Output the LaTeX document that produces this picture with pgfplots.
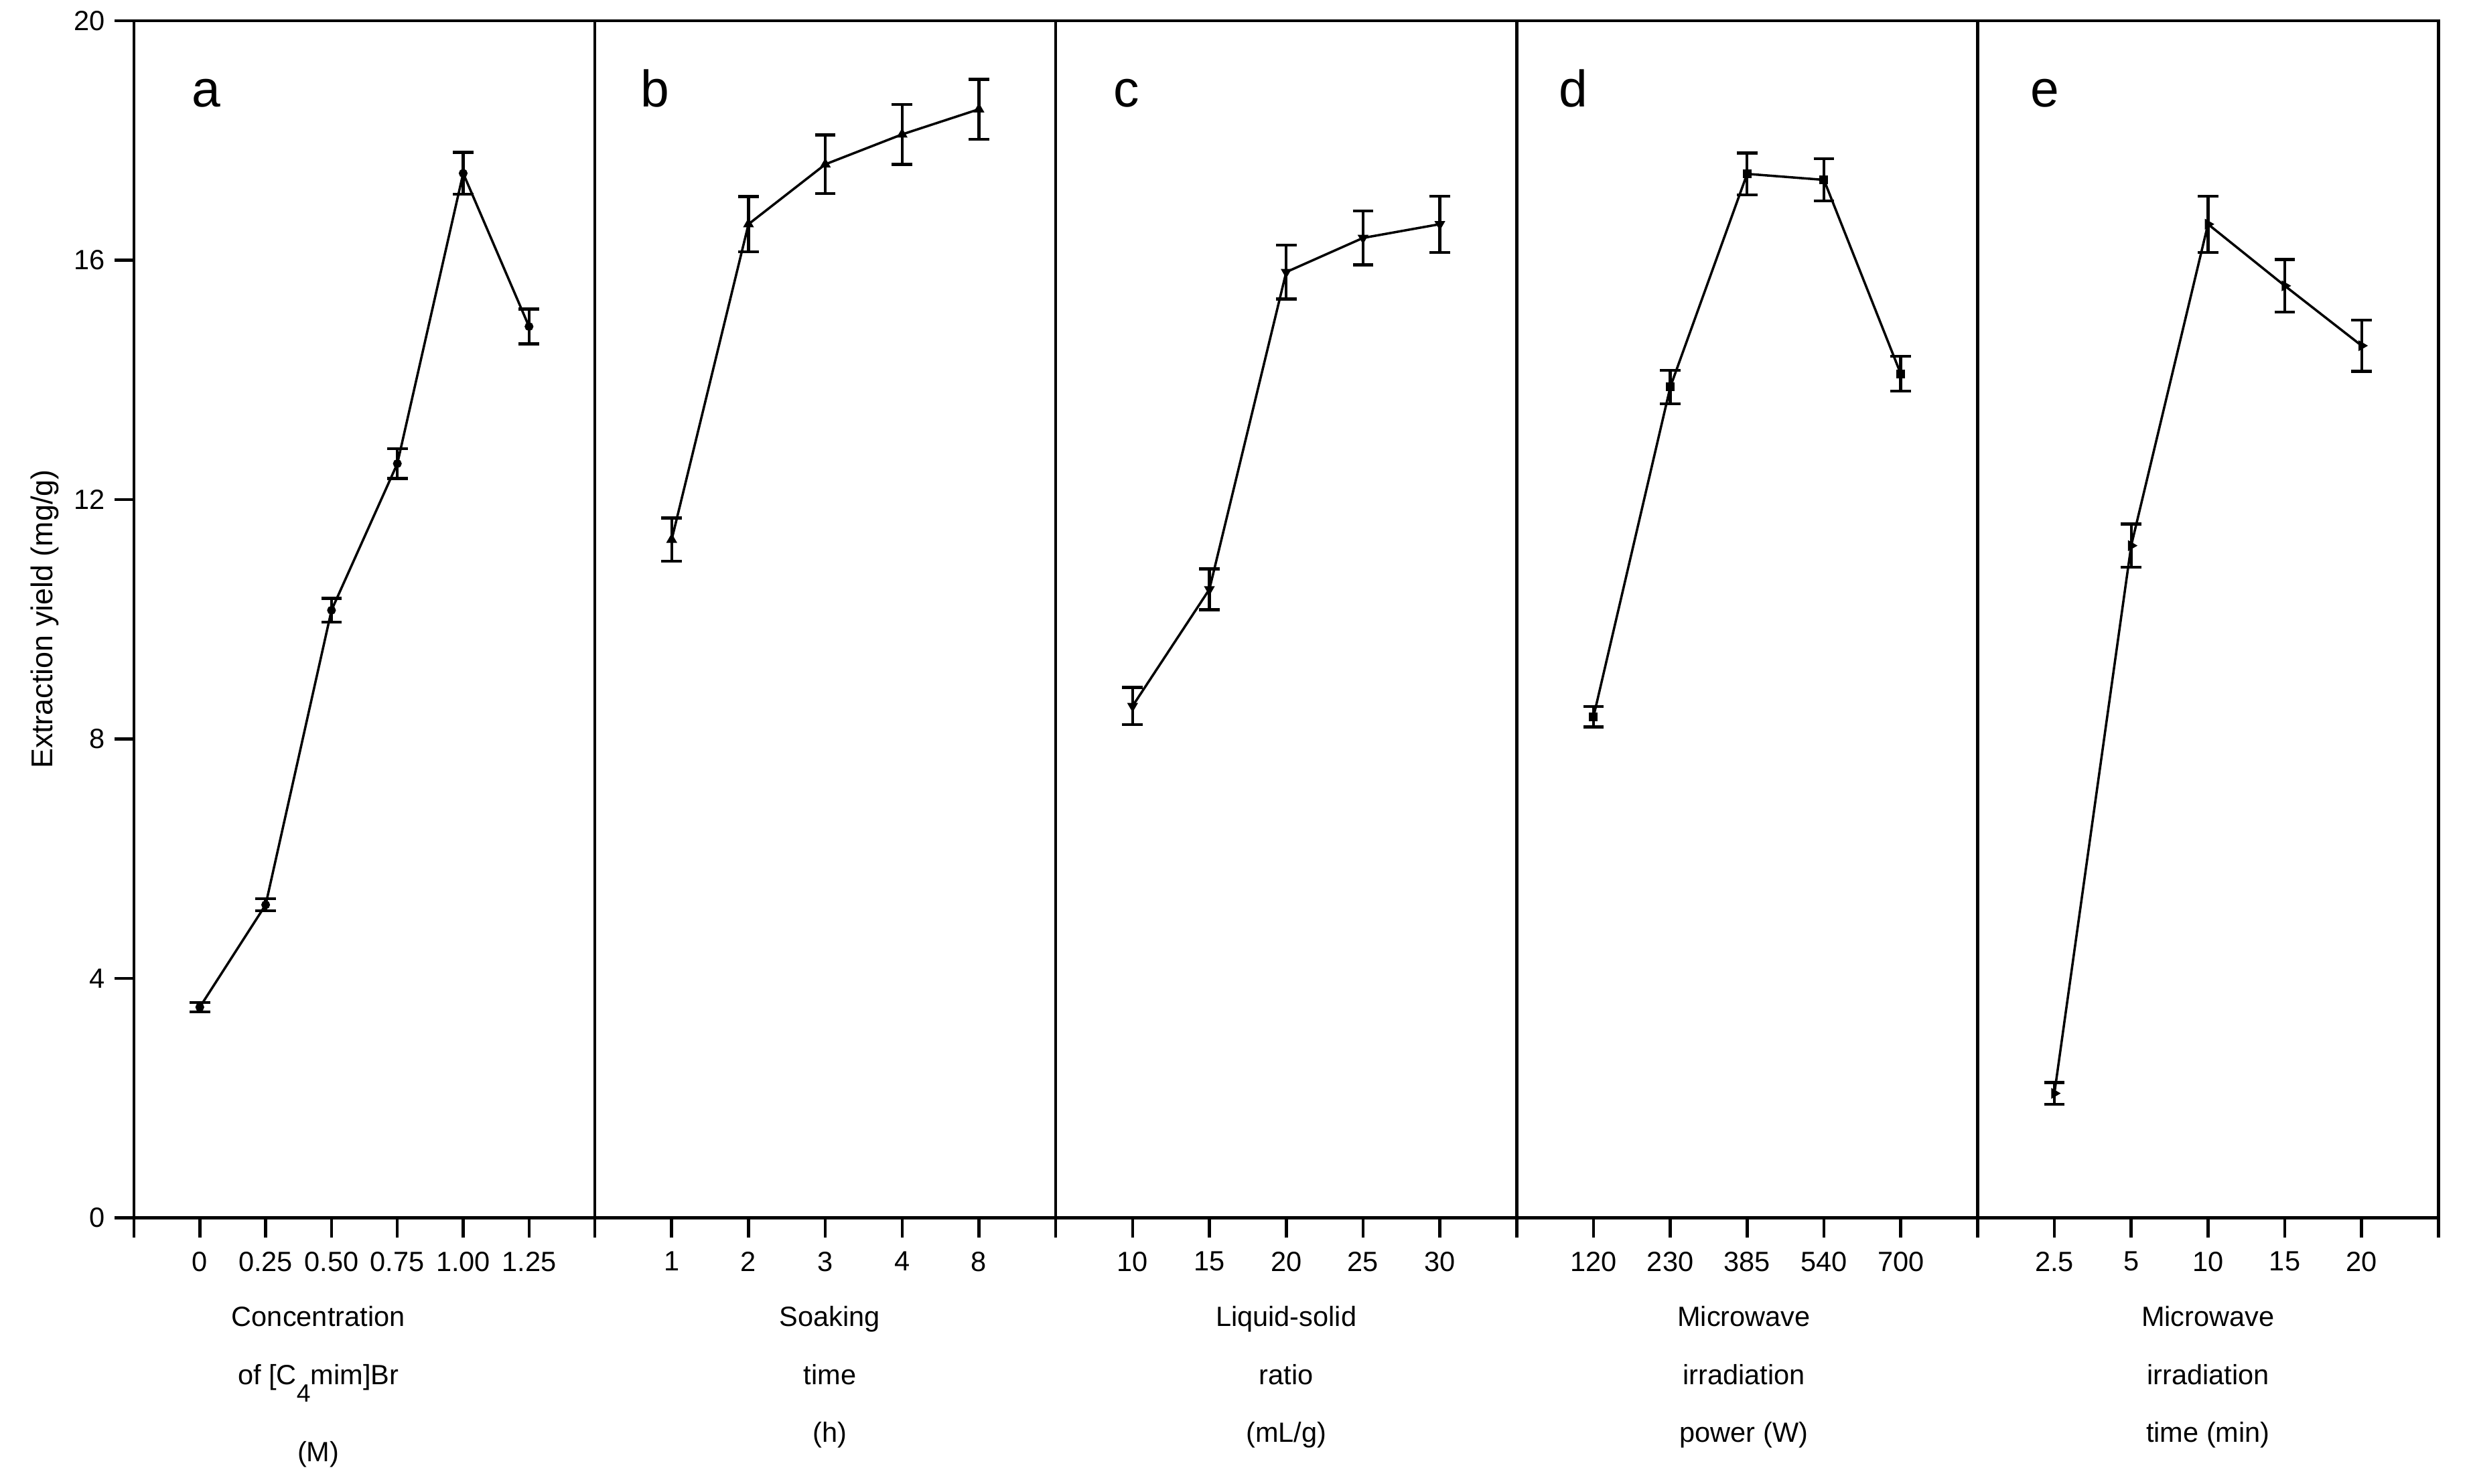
\documentclass[border=0pt]{standalone}
\usepackage{fontspec}
\setmainfont{Liberation Sans}
\usepackage{pgfplots}
\pgfplotsset{compat=1.18}
\begin{document}
\begin{tikzpicture}
\tikzset{letter/.style={anchor=base, font=\fontsize{18.5}{20}\selectfont}}
\pgfplotsset{
  panel/.style={
    scale only axis, width=58.21mm, height=151.24mm,
    anchor=south west,
    ymin=0, ymax=20,
    xmin=0, xmax=6,
    axis line style={line width=1.1pt},
    tick style={line width=1.1pt, black},
    major tick length=2.45mm,
    tick align=outside,
    xtick pos=bottom, ytick pos=left,
    ytick=\empty,
    ticklabel style={font=\fontsize{10}{12}\selectfont},
    xticklabel style={yshift=-0.6mm},
    /pgf/number format/assume math mode=true,
    xlabel style={at={(axis description cs:0.5,-0.0734)}, anchor=north, inner sep=0pt, align=center, font=\fontsize{10}{20.8}\selectfont},
    clip=false,
  },
  ser/.style={black, line width=0.85pt, mark size=0.5mm,
    error bars/y dir=both, error bars/y explicit,
    error bars/error bar style={line width=1.05pt, solid},
    error bars/error mark options={rotate=90, mark size=1.3mm, line width=1.05pt, solid}},
}
% ---- panel a
\begin{axis}[panel, at={(0mm,0mm)},
  xmax=7, xtick={0,...,7},
  xticklabels={{},0,0.25,0.50,0.75,1.00,1.25,{}},
  ytick={0,4,8,12,16,20},
  yticklabels={0,4,8,12,16,20},
  ylabel={Extraction yield (mg/g)},
  ylabel style={at={(axis description cs:-0.176,0.5)}, anchor=base, font=\fontsize{10.8}{12}\selectfont},
  xlabel={Concentration\\of [C\raisebox{-2.2mm}{\fontsize{9}{10}\selectfont 4}mim]Br\\[7pt](M)},
  xlabel style={at={(axis description cs:0.40,-0.0734)}},
]
\addplot+[ser, mark=*, mark options={solid, fill=black, mark size=0.4mm}] coordinates {
  (1,3.52) +- (0,0.08)
  (2,5.23) +- (0,0.10)
  (3,10.15) +- (0,0.20)
  (4,12.60) +- (0,0.25)
  (5,17.45) +- (0,0.35)
  (6,14.89) +- (0,0.29)
};
\node[letter] at (axis cs:1.1,18.56) {a};
\end{axis}
% ---- panel b
\begin{axis}[panel, at={(58.21mm,0mm)},
  xtick={0,...,6},
  xticklabels={{},1,2,3,4,8,{}},
  xlabel={Soaking\\time\\(h)},
  xlabel style={at={(axis description cs:0.51,-0.0734)}},
]
\addplot+[ser, mark=triangle*, mark options={solid, fill=black}] coordinates {
  (1,11.33) +- (0,0.36)
  (2,16.60) +- (0,0.46)
  (3,17.60) +- (0,0.49)
  (4,18.10) +- (0,0.50)
  (5,18.52) +- (0,0.50)
};
\node[letter] at (axis cs:0.78,18.56) {b};
\end{axis}
% ---- panel c
\begin{axis}[panel, at={(116.42mm,0mm)},
  xtick={0,...,6},
  xticklabels={{},10,15,20,25,30,{}},
  xlabel={Liquid-solid\\ratio\\(mL/g)},
]
\addplot+[ser, mark=triangle*, mark options={solid, fill=black, rotate=180}] coordinates {
  (1,8.55) +- (0,0.31)
  (2,10.50) +- (0,0.34)
  (3,15.80) +- (0,0.45)
  (4,16.37) +- (0,0.45)
  (5,16.60) +- (0,0.47)
};
\node[letter] at (axis cs:0.92,18.56) {c};
\end{axis}
% ---- panel d
\begin{axis}[panel, at={(174.63mm,0mm)},
  xtick={0,...,6},
  xticklabels={{},120,230,385,540,700,{}},
  xlabel={Microwave\\irradiation\\power (W)},
  xlabel style={at={(axis description cs:0.493,-0.0734)}},
]
\addplot+[ser, mark=square*, mark options={solid, fill=black, mark size=0.4mm}] coordinates {
  (1,8.37) +- (0,0.17)
  (2,13.88) +- (0,0.28)
  (3,17.44) +- (0,0.35)
  (4,17.34) +- (0,0.35)
  (5,14.10) +- (0,0.29)
};
\node[letter] at (axis cs:0.74,18.56) {d};
\end{axis}
% ---- panel e
\begin{axis}[panel, at={(232.84mm,0mm)},
  xtick={0,...,6},
  xticklabels={{},2.5,5,10,15,20,{}},
  xlabel={Microwave\\irradiation\\time (min)},
]
\addplot+[ser, mark=triangle*, mark options={solid, fill=black, rotate=-90}] coordinates {
  (1,2.08) +- (0,0.18)
  (2,11.23) +- (0,0.36)
  (3,16.60) +- (0,0.47)
  (4,15.57) +- (0,0.44)
  (5,14.57) +- (0,0.43)
};
\node[letter] at (axis cs:0.88,18.56) {e};
\end{axis}
\pgfresetboundingbox
\useasboundingbox (-16.92mm,-33.54mm) rectangle (295.16mm,153.85mm);
\end{tikzpicture}
\end{document}
